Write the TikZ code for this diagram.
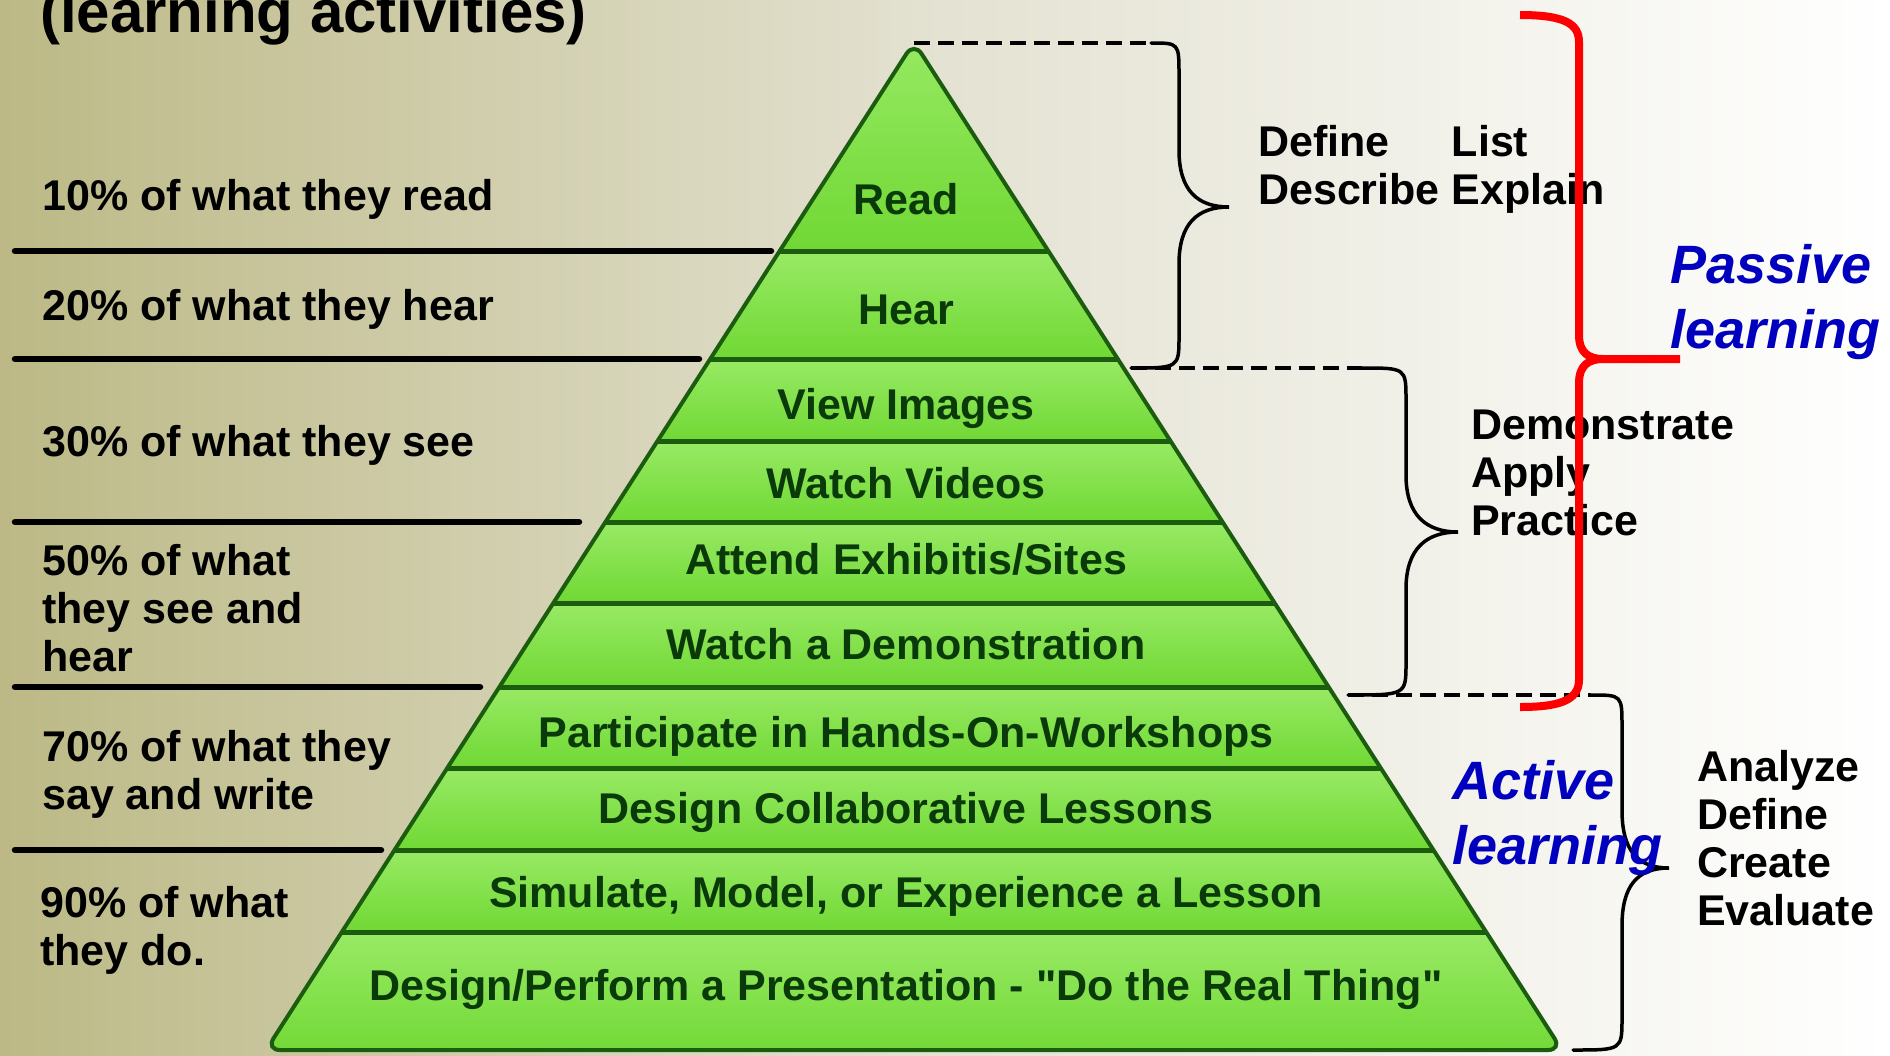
\documentclass[tikz,border=0pt]{standalone}
\usepackage{fontspec}
\setmainfont{Liberation Sans}[Ligatures=TeXOff]

\definecolor{bgleft}{RGB}{188,185,134}
\definecolor{bgmid}{RGB}{228,226,210}
\definecolor{pyrlight}{RGB}{152,234,100}
\definecolor{pyrgreen}{RGB}{112,216,52}
\definecolor{pyrdark}{RGB}{28,92,14}
\definecolor{pyrtext}{RGB}{10,58,10}
\definecolor{learnblue}{RGB}{0,0,190}
\definecolor{bracketred}{RGB}{255,0,0}

\begin{document}
\begin{tikzpicture}[x=1pt, y=-1pt,
	pct/.style = {anchor=west, align=left, inner sep=0pt, font=\bfseries\fontsize{43}{48}\selectfont},
	band/.style = {inner sep=0pt, text height=31pt, text depth=9pt, text=pyrtext, font=\bfseries\fontsize{43}{48}\selectfont},
	skill/.style = {anchor=west, align=left, inner sep=0pt, font=\bfseries\fontsize{43}{48}\selectfont},
	learnlbl/.style = {anchor=west, align=left, inner sep=0pt, text=learnblue, font=\bfseries\itshape\fontsize{54}{65}\selectfont},
	blackrule/.style = {line width=6.5pt, line cap=round},
	bandline/.style = {draw=pyrdark, line width=5pt},
	guide/.style = {line width=4pt, dash pattern=on 16pt off 8pt},
	brc/.style = {line width=3.5pt, line cap=round},
	redbrc/.style = {draw=bracketred, line width=8pt, line join=round}]
	\useasboundingbox (0,0) rectangle (1890,1055);
	\shade[left color=bgleft, right color=white, middle color=bgmid] (0,0) rectangle (1890,1055);
	\node[anchor=base west, inner sep=0pt, font=\bfseries\fontsize{60}{70}\selectfont] (title) at (40,32) {(learning activities)};

	\coordinate (apex) at (914,42);
	\coordinate (baseL) at (266,1050);
	\coordinate (baseR) at (1562,1050);
	\begin{scope}
		\clip[rounded corners=14pt] (apex) -- (baseR) -- (baseL) -- cycle;
		\foreach \ya/\yb in {30/251,251/359,359/441,441/522,522/603,603/687,687/768,768/850,850/932,932/1060}
			\shade[top color=pyrlight, bottom color=pyrgreen] (250,\ya) rectangle (1580,\yb);
		\foreach \y in {251,359,441,522,603,687,768,850,932}
			\draw[bandline] (250,\y) -- (1580,\y);
	\end{scope}
	\draw[pyrdark, line width=4pt, rounded corners=14pt] (apex) -- (baseR) -- (baseL) -- cycle;

	\node[band] (read) at (906,203) {Read};
	\node[band] (hear) at (906,313) {Hear};
	\node[band] (images) at (906,408) {View Images};
	\node[band] (videos) at (906,487) {Watch Videos};
	\node[band] (sites) at (906,563) {Attend Exhibitis/Sites};
	\node[band] (demo) at (906,648) {Watch a Demonstration};
	\node[band] (workshops) at (906,736) {Participate in Hands-On-Workshops};
	\node[band] (lessons) at (906,812) {Design Collaborative Lessons};
	\node[band] (simulate) at (906,896) {Simulate, Model, or Experience a Lesson};
	\node[band] (present) at (906,989) {Design/Perform a Presentation - "Do the Real Thing"};

	\node[pct] (p10) at (42,199) {10\% of what they read};
	\node[pct] (p20) at (42,309) {20\% of what they hear};
	\node[pct] (p30) at (42,445) {30\% of what they see};
	\node[pct] (p50) at (42,608) {50\% of what\\they see and\\hear};
	\node[pct] (p70) at (42,774) {70\% of what they\\say and write};
	\node[pct] (p90) at (40,930) {90\% of what\\they do.};

	\coordinate (L1) at (15,251); \coordinate (R1) at (771,251);
	\coordinate (L2) at (15,359); \coordinate (R2) at (699,359);
	\coordinate (L3) at (15,522); \coordinate (R3) at (579,522);
	\coordinate (L4) at (15,687); \coordinate (R4) at (480,687);
	\coordinate (L5) at (15,850); \coordinate (R5) at (381,850);
	\draw[blackrule] (L1) -- (R1) (L2) -- (R2) (L3) -- (R3) (L4) -- (R4) (L5) -- (R5);

	\node[skill] (recall) at (1258,171) {\begin{tabular}{@{}l@{\hspace{12pt}}l@{}}Define & List\\Describe & Explain\end{tabular}};
	\node[skill] (apply) at (1471,473) {Demonstrate\\Apply\\Practice};
	\node[skill] (create) at (1697,838) {Analyze\\Define\\Create\\Evaluate};

	\coordinate (g1a) at (914,43); \coordinate (g1b) at (1151,43);
	\coordinate (g2a) at (1131,368); \coordinate (g2b) at (1362,368);
	\coordinate (g3a) at (1348,695); \coordinate (g3b) at (1591,695);
	\coordinate (foot) at (1573,1050);
	\draw[guide] (g1a) -- (g1b) (g2a) -- (g2b) (g3a) -- (g3b);

	\coordinate (top1) at (1179,75); \coordinate (up1) at (1179,150); \coordinate (tip1) at (1229,207); \coordinate (dn1) at (1179,264); \coordinate (bot1) at (1179,336);
	\coordinate (top2) at (1406,400); \coordinate (up2) at (1406,475); \coordinate (tip2) at (1458,532); \coordinate (dn2) at (1406,589); \coordinate (bot2) at (1406,663);
	\coordinate (top3) at (1622,727); \coordinate (up3) at (1622,810); \coordinate (tip3) at (1669,868); \coordinate (dn3) at (1622,926); \coordinate (bot3) at (1622,1018);
	\foreach \i/\st/\en in {1/g1b/g2a, 2/g2b/g3a, 3/g3b/foot}
		\draw[brc] (\st) .. controls (\st -| top\i) .. (top\i) -- (up\i) .. controls +(0,40) and +(-32,0) .. (tip\i) .. controls +(-32,0) and +(0,-40) .. (dn\i) -- (bot\i) .. controls (\en -| bot\i) .. (\en);

	\coordinate (redA) at (1520,15); \coordinate (redB) at (1579,42); \coordinate (redC) at (1579,335); \coordinate (redD) at (1603,359);
	\coordinate (redE) at (1680,359); \coordinate (redF) at (1579,383); \coordinate (redG) at (1579,680); \coordinate (redH) at (1520,707);
	\draw[redbrc] (redA) .. controls +(45,0) and +(0,-18) .. (redB) -- (redC) .. controls +(0,18) and +(-14,0) .. (redD) -- (redE) (redD) .. controls +(-14,0) and +(0,-18) .. (redF) -- (redG) .. controls +(0,22) and +(35,0) .. (redH);

	\node[learnlbl] (passive) at (1670,302) {Passive\\learning};
	\node[learnlbl] (active) at (1452,818) {Active\\learning};
\end{tikzpicture}
\end{document}
